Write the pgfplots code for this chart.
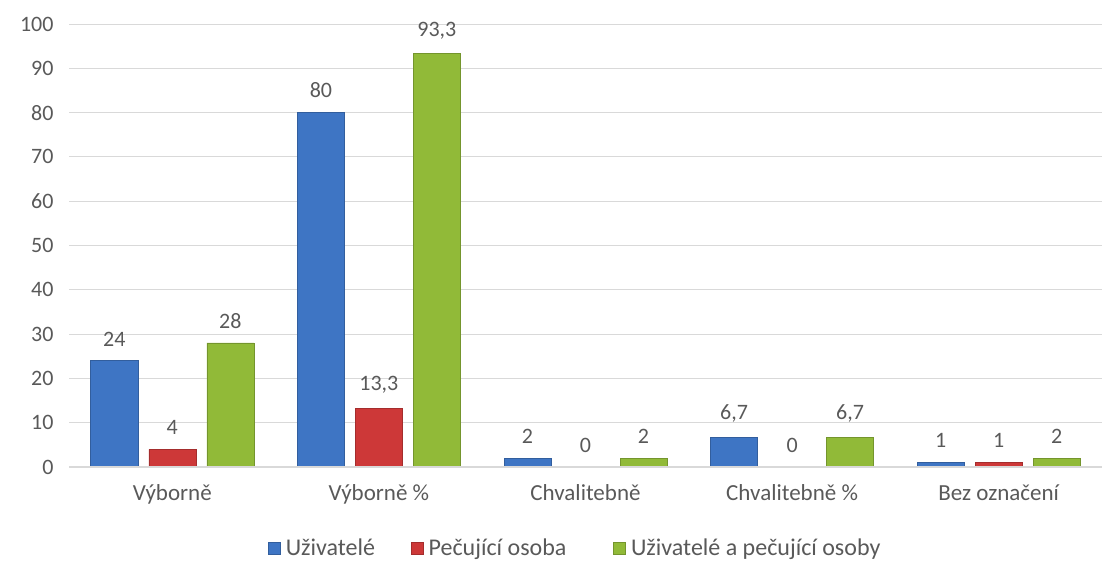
\documentclass[border=0pt]{standalone}
\usepackage{pgfplots}
\pgfplotsset{compat=1.18}
\usepackage{fontspec}
\setmainfont{Carlito}
\definecolor{cblue}{RGB}{62,117,196}
\definecolor{cred}{RGB}{205,56,56}
\definecolor{cgreen}{RGB}{145,186,56}
\definecolor{txt}{RGB}{89,89,89}
\definecolor{gridc}{RGB}{217,217,217}
\begin{document}
\begin{tikzpicture}[font=\fontsize{22bp}{26bp}\selectfont, text=txt]
\begin{axis}[
  name=ax,
  scale only axis,
  width=1033bp, height=443bp,
  xmin=-0.5, xmax=4.5,
  ymin=0, ymax=100,
  ytick={0,10,...,100},
  xtick=data,
  xticklabels={Výborně, Výborně \%, Chvalitebně, Chvalitebně \%, Bez označení},
  xmajorgrids=false,
  ymajorgrids=true,
  grid style={gridc, line width=0.9bp},
  axis line style={draw=none},
  major tick length=0pt,
  tick style={draw=none},
  ybar=11bp,
  bar width=47bp,
  /pgf/number format/assume math mode=true,
  /pgf/number format/use comma,
  yticklabel style={xshift=-12bp},
  xticklabel style={yshift=-14bp, font=\fontsize{23bp}{27bp}\selectfont},
  nodes near coords,
  nodes near coords style={anchor=south, yshift=11bp, text=txt,
     /pgf/number format/assume math mode=true, /pgf/number format/use comma},
  legend columns=3,
  legend style={draw=none, fill=none, at={(0,0)}, anchor=west, xshift=196bp, yshift=-81bp,
    /tikz/every even column/.append style={column sep=34bp},
    font=\fontsize{24bp}{28bp}\selectfont, text=txt},
  legend image code/.code={\fill[#1] (0bp,-6bp) rectangle (12bp,6bp); \path (15bp,0bp);},
]
\addplot[fill=cblue, draw=cblue!80!black, line width=0.6bp] coordinates {(0,24) (1,80) (2,2) (3,6.7) (4,1)};
\addplot[fill=cred, draw=cred!80!black, line width=0.6bp] coordinates {(0,4) (1,13.3) (2,0) (3,0) (4,1)};
\addplot[fill=cgreen, draw=cgreen!80!black, line width=0.6bp] coordinates {(0,28) (1,93.3) (2,2) (3,6.7) (4,2)};
\draw[gridc, line width=1.2bp] (rel axis cs:0,0) -- (rel axis cs:1,0);
\legend{Uživatelé, Pečující osoba\rule{11bp}{0pt}, Uživatelé a pečující osoby}
\end{axis}
\pgfresetboundingbox
\path ([xshift=-69bp,yshift=-93bp]ax.south west) rectangle ([xshift=4bp,yshift=24bp]ax.north east);
\end{tikzpicture}
\end{document}
